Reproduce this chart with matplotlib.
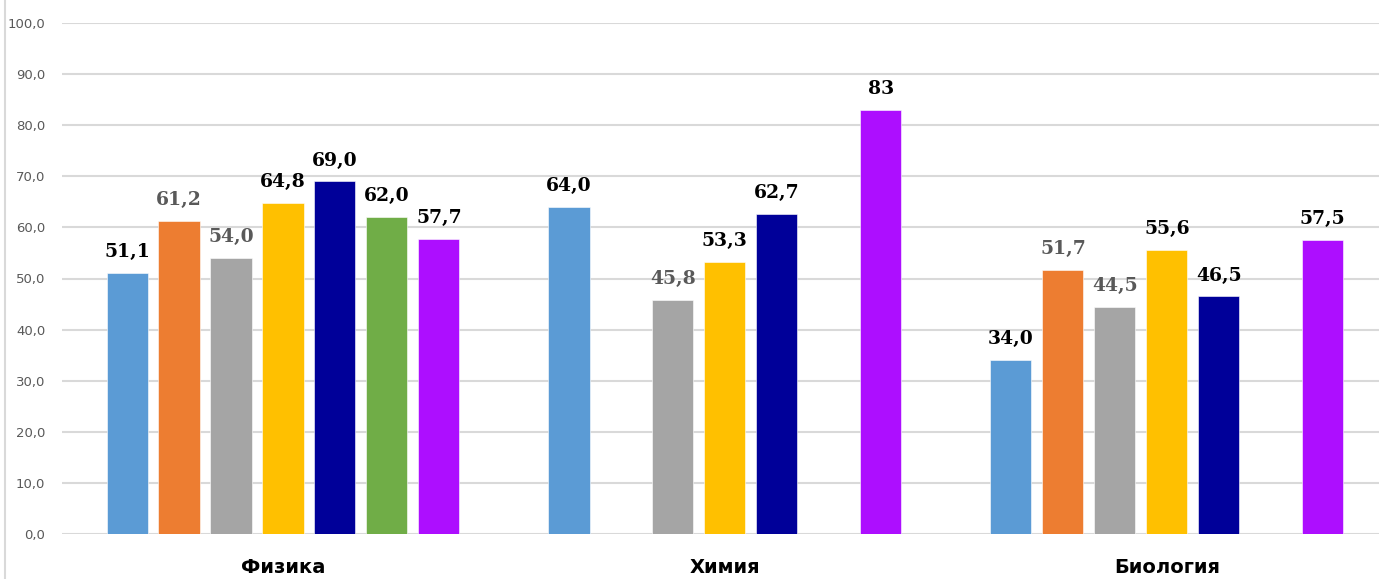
import matplotlib.pyplot as plt
from matplotlib.lines import Line2D
import numpy as np

categories = ["Физика", "Химия", "Биология"]
series_colors = ["#5B9BD5", "#ED7D31", "#A5A5A5", "#FFC000", "#000099", "#70AD47", "#AD0EFF"]
series_values = [
    [51.1, 64.0, 34.0],
    [61.2, np.nan, 51.7],
    [54.0, 45.8, 44.5],
    [64.8, 53.3, 55.6],
    [69.0, 62.7, 46.5],
    [62.0, np.nan, np.nan],
    [57.7, 83, 57.5],
]
label_colors = ["black", "#595959", "#595959", "black", "black", "black", "black"]
# values shown without a decimal part (series index, category index)
plain_labels = {(6, 1)}
y_ticks = [0, 10, 20, 30, 40, 50, 60, 70, 80, 90, 100]

fig = plt.figure(figsize=(13.79, 5.79), dpi=100)
ax = fig.add_axes([62 / 1379, 1 - 534 / 579, 1 - 62 / 1379, (534 - 23) / 579])

x = np.arange(len(categories))
step = 0.1176
width = 0.093

for i, vals in enumerate(series_values):
    pos = x + (i - 3) * step
    ax.bar(pos, vals, width, color=series_colors[i], zorder=3,
           edgecolor="white", linewidth=0.4)
    for j, v in enumerate(vals):
        if np.isnan(v):
            continue
        if (i, j) in plain_labels:
            txt = f"{v:.0f}"
        else:
            txt = f"{v:.1f}".replace(".", ",")
        ax.annotate(txt, (pos[j], v), xytext=(0, 8.5), textcoords="offset points",
                    ha="center", va="bottom", fontsize=13.5, fontweight="heavy",
                    family="DejaVu Serif", color=label_colors[i])

ax.set_xlim(-0.5, 2.48)
ax.set_ylim(0, 100)
ax.set_yticks(y_ticks)
ax.set_yticklabels([f"{t:.1f}".replace(".", ",") for t in y_ticks], fontsize=9.5, color="#595959")
ax.set_xticks(x)
ax.set_xticklabels(categories, fontsize=14, fontweight="bold", color="black")
ax.tick_params(axis="x", length=0, pad=17)
ax.tick_params(axis="y", length=0, pad=12)
ax.grid(axis="y", color="#D9D9D9", linewidth=1.5, zorder=0)
for s in ax.spines.values():
    s.set_visible(False)

fig.add_artist(Line2D([5 / 1379, 5 / 1379], [0, 1], color="#D9D9D9", linewidth=1.5))

plt.savefig("out.png", dpi=100)
